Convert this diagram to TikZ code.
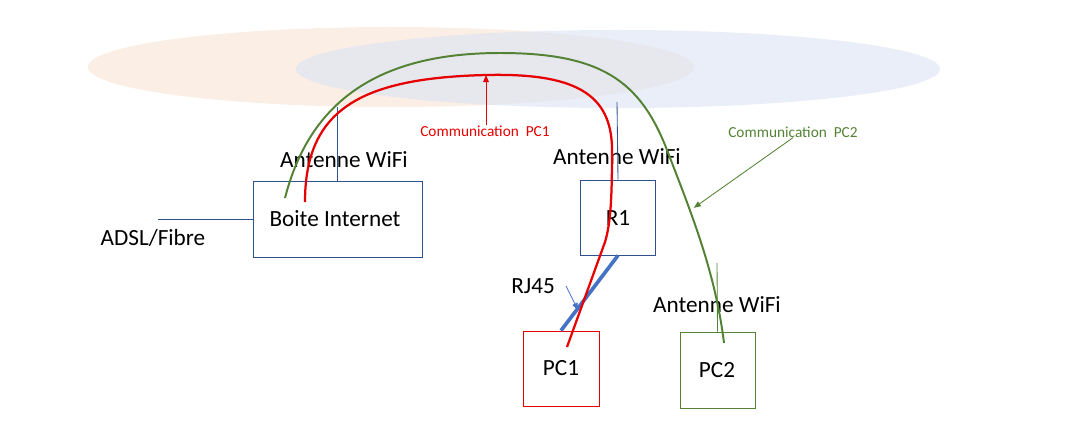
\documentclass[tikz,border=0pt]{standalone}
\usepackage{fontspec}
\setmainfont{Carlito}
\usepackage{xcolor}
\usepackage{tikz}
\usetikzlibrary{arrows.meta}

\definecolor{boxblue}{RGB}{47,82,143}
\definecolor{cableblue}{RGB}{68,114,196}
\definecolor{pcred}{RGB}{230,0,0}
\definecolor{pcgreen}{RGB}{84,130,53}
\definecolor{zoneorange}{RGB}{251,238,229}
\definecolor{zoneblue}{RGB}{221,229,244}

\begin{document}
\begin{tikzpicture}[x=0.025cm,y=-0.025cm,
		box/.style={draw=boxblue,line width=0.6pt,inner sep=0pt},
		lbl/.style={font=\fontsize{16.5}{20}\selectfont,inner sep=0pt},
		comm/.style={font=\fontsize{10.9}{13}\selectfont,inner sep=0pt}]
		\useasboundingbox (0,0) rectangle (1069,429);
		% zones WiFi
		\fill[zoneorange] (391,67) ellipse [x radius=7.575cm,y radius=1cm];
		\fill[zoneblue,opacity=0.65] (618,69) ellipse [x radius=8.05cm,y radius=0.975cm];
		%
		\node[box,minimum width=4.225cm,minimum height=1.9cm] (box) at (337.5,219) {};
		\node[lbl] at (335,219) {Boite Internet};
		\node[box,minimum width=1.875cm,minimum height=1.875cm] (R1) at (618,217.5) {};
		\node[lbl] at (618,218) {R1};
		\node[box,draw=pcred,minimum width=1.9cm,minimum height=1.875cm] (PC1) at (561,368.5) {};
		\node[lbl] at (561,368) {PC1};
		\node[box,draw=pcgreen,minimum width=1.875cm,minimum height=1.9cm] (PC2) at (717.5,370) {};
		\node[lbl] at (717,370) {PC2};
		%
		\node[lbl] (ant1) at (344,160) {Antenne WiFi};
		\node[lbl] (ant2) at (617,157) {Antenne WiFi};
		\node[lbl] (ant3) at (717,305) {Antenne WiFi};
		\node[lbl] (adsl) at (153,238) {ADSL/Fibre};
		\node[lbl] (rj) at (533,286) {RJ45};
		\node[comm,text=pcred] (c1) at (485,131) {Communication\ \ PC1};
		\node[comm,text=pcgreen] (c2) at (793,132) {Communication\ \ PC2};
		%
		\coordinate (a1) at (337,107);
		\coordinate (a2) at (617,102);
		\coordinate (a3) at (717,263);
		\coordinate (line) at (158,219);
		\draw[boxblue,line width=0.6pt] (a1) -- (a1 |- box.north);
		\draw[boxblue,line width=0.6pt] (a2) -- (R1.north);
		\draw[pcgreen,line width=0.6pt] (a3) -- (PC2.north);
		\draw[boxblue,line width=0.6pt] (line) -- (box.west);
		\draw[cableblue,line width=2.6pt] (R1.south) -- (PC1.north);
		%
		\coordinate (r0) at (305,202);
		\coordinate (rtop) at (486,75);
		\coordinate (r1) at (612,150);
		\coordinate (r2) at (605,242);
		\coordinate (r3) at (567,347);
		\draw[pcred,line width=1.6pt] (r0) .. controls (305,110) and (360,78) .. (rtop)
			.. controls (572,73) and (612,92) .. (r1)
			.. controls (612,195) and (611,222) .. (r2) -- (r3);
		\coordinate (g0) at (285,198);
		\coordinate (gtop) at (500,53);
		\coordinate (g1) at (667,150);
		\coordinate (g2) at (724,343);
		\draw[pcgreen,line width=1.4pt] (g0) .. controls (310,100) and (380,53) .. (gtop)
			.. controls (600,53) and (640,80) .. (g1)
			.. controls (690,210) and (715,270) .. (g2);
		%
		\path[-{Triangle[length=5pt,width=4pt]},line width=0.6pt]
			(c1.north -| rtop) edge[pcred] (rtop)
			(c2.south) edge[pcgreen,shorten >=-1pt] (695,207)
			(566,286) edge[cableblue] (578,310);
	\end{tikzpicture}
\end{document}
